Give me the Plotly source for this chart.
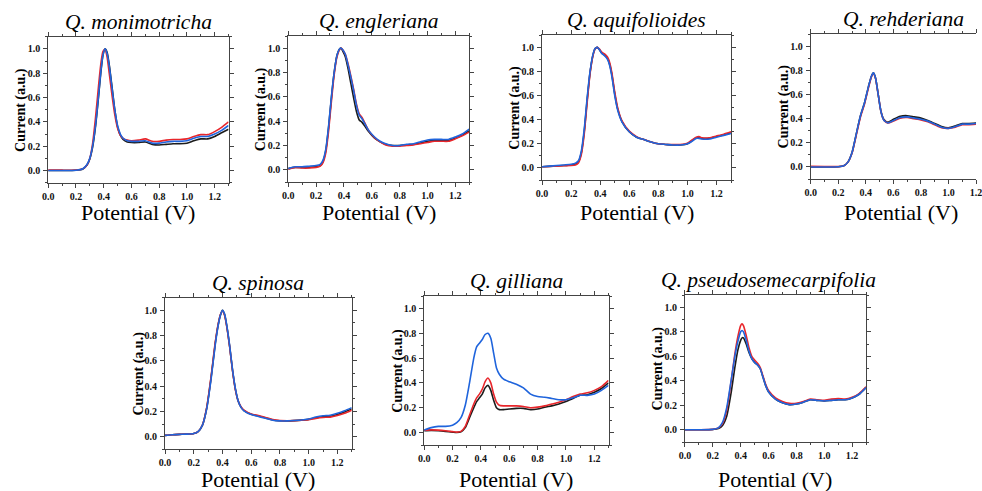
import plotly.graph_objects as go

W, H = 982, 491

# ---------------- data ----------------
TITLES = ["Q. monimotricha", "Q. engleriana", "Q. aquifolioides", "Q. rehderiana",
          "Q. spinosa", "Q. gilliana", "Q. pseudosemecarpifolia"]
X_TICKS = [0.0, 0.2, 0.4, 0.6, 0.8, 1.0, 1.2]
Y_TICKS = [0.0, 0.2, 0.4, 0.6, 0.8, 1.0]

MON_X = [0, 0.1, 0.2, 0.25, 0.28, 0.3, 0.32, 0.34, 0.36, 0.38, 0.395, 0.41, 0.425, 0.44, 0.46, 0.48, 0.5, 0.52, 0.54, 0.57,
         0.6, 0.65, 0.7, 0.75, 0.8, 0.85, 0.9, 0.95, 1.0, 1.05, 1.1, 1.15, 1.2, 1.25, 1.3]
MON_BLACK = [0, 0, 0.002, 0.013, 0.045, 0.095, 0.19, 0.35, 0.57, 0.81, 0.95, 1.0, 0.97, 0.87, 0.69, 0.5, 0.36, 0.29, 0.255, 0.235,
             0.23, 0.23, 0.235, 0.215, 0.21, 0.215, 0.22, 0.22, 0.225, 0.245, 0.26, 0.26, 0.28, 0.31, 0.34]
MON_RED = [0.005, 0.003, 0.004, 0.015, 0.045, 0.1, 0.22, 0.42, 0.66, 0.88, 0.98, 0.995, 0.93, 0.8, 0.62, 0.46, 0.35, 0.29, 0.265, 0.25,
           0.245, 0.25, 0.26, 0.24, 0.24, 0.25, 0.255, 0.255, 0.26, 0.28, 0.295, 0.295, 0.32, 0.355, 0.40]
MON_BLUE = [0, 0, 0.002, 0.015, 0.05, 0.1, 0.2, 0.36, 0.58, 0.82, 0.95, 1.0, 0.96, 0.86, 0.68, 0.5, 0.37, 0.3, 0.265, 0.245,
            0.24, 0.24, 0.245, 0.225, 0.225, 0.235, 0.24, 0.24, 0.245, 0.265, 0.28, 0.28, 0.3, 0.33, 0.37]

ENG_X = [0, 0.05, 0.1, 0.15, 0.2, 0.23, 0.25, 0.27, 0.29, 0.31, 0.33, 0.35, 0.37, 0.38, 0.39, 0.41, 0.43, 0.45, 0.47, 0.49,
         0.51, 0.53, 0.55, 0.58, 0.62, 0.66, 0.7, 0.75, 0.8, 0.85, 0.9, 0.95, 1.0, 1.05, 1.1, 1.15, 1.2, 1.25, 1.3]
ENG_BLACK = [0.01, 0.02, 0.02, 0.02, 0.025, 0.035, 0.07, 0.16, 0.35, 0.59, 0.8, 0.94, 0.995, 1.0, 0.98, 0.93, 0.83, 0.71, 0.59, 0.48,
             0.41, 0.39, 0.36, 0.31, 0.26, 0.23, 0.21, 0.2, 0.2, 0.205, 0.21, 0.22, 0.235, 0.24, 0.24, 0.24, 0.26, 0.285, 0.32]
ENG_RED = [0.005, 0.02, 0.015, 0.015, 0.02, 0.03, 0.06, 0.14, 0.32, 0.56, 0.78, 0.93, 0.99, 1.0, 0.99, 0.95, 0.87, 0.77, 0.66, 0.54,
           0.46, 0.43, 0.385, 0.32, 0.265, 0.23, 0.205, 0.195, 0.195, 0.2, 0.205, 0.215, 0.225, 0.235, 0.235, 0.235, 0.255, 0.28, 0.31]
ENG_BLUE = [0.01, 0.025, 0.025, 0.03, 0.035, 0.045, 0.08, 0.17, 0.36, 0.6, 0.8, 0.94, 0.995, 1.0, 0.99, 0.95, 0.86, 0.76, 0.65, 0.53,
            0.45, 0.42, 0.38, 0.32, 0.27, 0.235, 0.215, 0.2, 0.2, 0.21, 0.215, 0.23, 0.245, 0.25, 0.25, 0.25, 0.27, 0.295, 0.335]

AQU_X = [0, 0.05, 0.1, 0.15, 0.2, 0.23, 0.25, 0.27, 0.29, 0.31, 0.33, 0.35, 0.365, 0.38, 0.395, 0.41, 0.43, 0.45, 0.465, 0.48,
         0.5, 0.52, 0.55, 0.6, 0.65, 0.7, 0.75, 0.8, 0.85, 0.9, 0.95, 1.0, 1.03, 1.06, 1.08, 1.1, 1.15, 1.2, 1.25, 1.3]
AQU_BLACK = [0.01, 0.013, 0.017, 0.02, 0.025, 0.032, 0.05, 0.125, 0.3, 0.56, 0.79, 0.935, 0.99, 1.0, 0.98, 0.955, 0.935, 0.91, 0.86, 0.775,
             0.615, 0.49, 0.385, 0.3, 0.255, 0.235, 0.215, 0.2, 0.195, 0.19, 0.19, 0.2, 0.225, 0.25, 0.25, 0.245, 0.245, 0.26, 0.275, 0.29]
AQU_RED = [0.01, 0.012, 0.015, 0.018, 0.02, 0.025, 0.04, 0.11, 0.28, 0.54, 0.78, 0.93, 0.985, 1.0, 0.985, 0.96, 0.945, 0.92, 0.875, 0.79,
           0.63, 0.5, 0.39, 0.305, 0.26, 0.235, 0.215, 0.2, 0.195, 0.195, 0.195, 0.205, 0.23, 0.255, 0.26, 0.25, 0.25, 0.265, 0.28, 0.3]
AQU_BLUE = [0.01, 0.015, 0.02, 0.025, 0.03, 0.04, 0.06, 0.14, 0.32, 0.58, 0.8, 0.94, 0.99, 1.0, 0.98, 0.95, 0.93, 0.9, 0.85, 0.76,
            0.6, 0.48, 0.38, 0.3, 0.255, 0.235, 0.215, 0.2, 0.195, 0.19, 0.19, 0.2, 0.22, 0.245, 0.245, 0.24, 0.24, 0.255, 0.27, 0.285]

REH_X = [0, 0.1, 0.2, 0.24, 0.27, 0.3, 0.33, 0.36, 0.39, 0.42, 0.44, 0.455, 0.47, 0.49, 0.51, 0.53, 0.56, 0.6, 0.65, 0.7,
         0.75, 0.8, 0.85, 0.9, 0.95, 1.0, 1.05, 1.1, 1.15, 1.2, 1.25, 1.3]
REH_BLACK = [0.0, 0.0, 0.002, 0.01, 0.04, 0.12, 0.27, 0.42, 0.53, 0.67, 0.75, 0.78, 0.74, 0.6, 0.46, 0.395, 0.37, 0.395, 0.42, 0.425,
             0.415, 0.405, 0.385, 0.36, 0.335, 0.325, 0.34, 0.36, 0.36, 0.365, 0.38, 0.395]
REH_RED = [0.005, 0.003, 0.003, 0.01, 0.04, 0.115, 0.26, 0.41, 0.52, 0.66, 0.745, 0.775, 0.735, 0.6, 0.46, 0.39, 0.365, 0.38, 0.405, 0.41,
           0.4, 0.39, 0.375, 0.35, 0.325, 0.32, 0.33, 0.35, 0.35, 0.355, 0.37, 0.385]
REH_BLUE = [0.0, 0.0, 0.002, 0.01, 0.04, 0.12, 0.27, 0.42, 0.53, 0.67, 0.75, 0.78, 0.74, 0.6, 0.46, 0.39, 0.365, 0.385, 0.41, 0.415,
            0.405, 0.395, 0.38, 0.355, 0.33, 0.32, 0.335, 0.355, 0.355, 0.36, 0.375, 0.39]

SPI_X = [0, 0.05, 0.1, 0.15, 0.2, 0.23, 0.26, 0.29, 0.32, 0.35, 0.37, 0.385, 0.4, 0.415, 0.43, 0.45, 0.47, 0.49, 0.51, 0.53,
         0.55, 0.6, 0.65, 0.7, 0.75, 0.8, 0.85, 0.9, 0.95, 1.0, 1.05, 1.1, 1.15, 1.2, 1.25, 1.3]
SPI_BLACK = [0.01, 0.015, 0.018, 0.02, 0.025, 0.04, 0.09, 0.225, 0.46, 0.74, 0.885, 0.96, 1.0, 0.965, 0.875, 0.715, 0.525, 0.375, 0.28, 0.232,
             0.207, 0.177, 0.164, 0.148, 0.132, 0.126, 0.125, 0.127, 0.131, 0.137, 0.15, 0.158, 0.162, 0.176, 0.195, 0.22]
SPI_RED = [0.01, 0.015, 0.018, 0.02, 0.025, 0.04, 0.09, 0.23, 0.47, 0.75, 0.89, 0.965, 0.995, 0.96, 0.87, 0.71, 0.52, 0.37, 0.28, 0.235,
           0.21, 0.18, 0.168, 0.152, 0.135, 0.127, 0.126, 0.127, 0.13, 0.135, 0.145, 0.152, 0.155, 0.168, 0.185, 0.21]
SPI_BLUE = [0.01, 0.015, 0.018, 0.02, 0.025, 0.04, 0.09, 0.22, 0.45, 0.73, 0.88, 0.96, 1.0, 0.97, 0.88, 0.72, 0.53, 0.38, 0.28, 0.23,
            0.205, 0.175, 0.16, 0.145, 0.13, 0.125, 0.125, 0.128, 0.132, 0.14, 0.155, 0.165, 0.17, 0.185, 0.205, 0.23]

GIL_X = [0, 0.05, 0.1, 0.15, 0.2, 0.23, 0.26, 0.29, 0.32, 0.35, 0.37, 0.39, 0.41, 0.43, 0.45, 0.47, 0.49, 0.51, 0.53, 0.56,
         0.6, 0.65, 0.7, 0.75, 0.8, 0.85, 0.9, 0.95, 1.0, 1.05, 1.1, 1.15, 1.2, 1.25, 1.3]
GIL_BLACK = [0.015, 0.018, 0.015, 0.01, 0.004, 0.001, 0.006, 0.04, 0.12, 0.2, 0.25, 0.28, 0.31, 0.36, 0.38, 0.34, 0.26, 0.2, 0.185, 0.185,
             0.19, 0.195, 0.195, 0.185, 0.19, 0.205, 0.215, 0.23, 0.25, 0.275, 0.3, 0.305, 0.325, 0.355, 0.4]
GIL_RED = [0.02, 0.022, 0.02, 0.015, 0.008, 0.004, 0.01, 0.05, 0.14, 0.23, 0.28, 0.31, 0.35, 0.41, 0.44, 0.4, 0.31, 0.245, 0.22, 0.215,
           0.215, 0.215, 0.21, 0.2, 0.205, 0.215, 0.23, 0.245, 0.265, 0.29, 0.31, 0.32, 0.34, 0.37, 0.42]
GIL_BLUE = [0.02, 0.04, 0.05, 0.05, 0.06, 0.08, 0.12, 0.22, 0.4, 0.6, 0.69, 0.72, 0.75, 0.79, 0.8, 0.76, 0.64, 0.52, 0.47, 0.43,
            0.41, 0.39, 0.36, 0.31, 0.29, 0.285, 0.275, 0.265, 0.265, 0.28, 0.3, 0.3, 0.31, 0.34, 0.38]

PSE_X = [0, 0.1, 0.2, 0.24, 0.27, 0.3, 0.33, 0.36, 0.38, 0.4, 0.41, 0.42, 0.44, 0.46, 0.48, 0.5, 0.52, 0.54, 0.56, 0.58,
         0.6, 0.65, 0.7, 0.75, 0.8, 0.85, 0.9, 0.95, 1.0, 1.05, 1.1, 1.15, 1.2, 1.25, 1.3]
PSE_BLACK = [0.0, 0.0, 0.002, 0.01, 0.035, 0.11, 0.29, 0.52, 0.65, 0.73, 0.75, 0.75, 0.7, 0.63, 0.58, 0.55, 0.53, 0.5, 0.43, 0.36,
             0.31, 0.25, 0.22, 0.205, 0.21, 0.225, 0.245, 0.24, 0.235, 0.24, 0.245, 0.245, 0.26, 0.29, 0.345]
PSE_RED = [0.0, 0.0, 0.003, 0.015, 0.05, 0.16, 0.38, 0.63, 0.76, 0.85, 0.865, 0.85, 0.77, 0.67, 0.6, 0.57, 0.545, 0.51, 0.44, 0.37,
           0.32, 0.26, 0.23, 0.215, 0.215, 0.23, 0.25, 0.245, 0.24, 0.25, 0.255, 0.25, 0.265, 0.295, 0.35]
PSE_BLUE = [0.0, 0.0, 0.003, 0.015, 0.06, 0.18, 0.39, 0.61, 0.72, 0.8, 0.81, 0.8, 0.73, 0.64, 0.58, 0.55, 0.53, 0.5, 0.43, 0.36,
            0.31, 0.25, 0.22, 0.205, 0.21, 0.225, 0.245, 0.24, 0.235, 0.24, 0.245, 0.245, 0.26, 0.29, 0.345]

PANEL_DATA = [
    (MON_X, MON_BLACK, MON_RED, MON_BLUE),
    (ENG_X, ENG_BLACK, ENG_RED, ENG_BLUE),
    (AQU_X, AQU_BLACK, AQU_RED, AQU_BLUE),
    (REH_X, REH_BLACK, REH_RED, REH_BLUE),
    (SPI_X, SPI_BLACK, SPI_RED, SPI_BLUE),
    (GIL_X, GIL_BLACK, GIL_RED, GIL_BLUE),
    (PSE_X, PSE_BLACK, PSE_RED, PSE_BLUE),
]

# ---------------- layout geometry (pixels) ----------------
# (left, right, top, bottom, title_center_x, x_range_max)
PANELS = [
    (42.7, 225.3, 36.7, 182.7, 134.0, 1.3),
    (285.7, 469.0, 36.0, 182.0, 377.3, 1.3),
    (542.7, 734.0, 35.3, 180.0, 638.3, 1.3),
    (814.7, 982.0, 34.3, 179.0, 909.0, 1.2),
    (161.0, 350.0, 297.7, 449.3, 255.5, 1.3),
    (423.3, 610.0, 296.0, 445.0, 516.6, 1.3),
    (687.3, 870.7, 295.0, 442.0, 772.0, 1.3),
]
XTITLE_BASE = [217, 217, 217, 217, 488, 488, 488]
XTITLE_PAD = [10, 10, 10, 10, 6, 6, 6]

COLORS = ["#1c1c1c", "#e8262b", "#1f64dc"]
SERIF = "Liberation Serif"
AXC = "#444444"

fig = go.Figure()
annotations = []
layout_axes = {}

for i, ((L, R, T, B, tcx, xmax), (xs, yk, yr, yb)) in enumerate(zip(PANELS, PANEL_DATA)):
    n = "" if i == 0 else str(i + 1)
    for ys, col in zip((yk, yr, yb), COLORS):
        fig.add_trace(go.Scatter(x=xs, y=ys, mode="lines",
                                 line=dict(color=col, width=1.6, shape="spline", smoothing=0.6),
                                 xaxis="x" + n, yaxis="y" + n, showlegend=False, hoverinfo="skip"))
    common = dict(showline=True, linecolor=AXC, linewidth=1, ticks="outside", ticklen=4,
                  tickwidth=1, tickcolor=AXC, showgrid=False, zeroline=False,
                  tickformat=".1f", tickfont=dict(family=SERIF, size=10, color="#111", weight="bold"),
                  minor=dict(ticks="outside", ticklen=2, tickcolor=AXC, dtick=0.1, showgrid=False),
                  ticklabeloverflow="allow", fixedrange=True)
    layout_axes["xaxis" + n] = dict(common, domain=[L / W, R / W], range=[0, xmax],
                                    tickvals=X_TICKS, anchor="y" + n, mirror="allticks", ticklabelstandoff=0)
    layout_axes["yaxis" + n] = dict(common, domain=[1 - B / H, 1 - T / H], range=[-0.1, 1.1],
                                    tickvals=Y_TICKS, anchor="x" + n,
                                    mirror=(False if i == 3 else "allticks"), ticklabelstandoff=1)
    # panel title
    annotations.append(dict(text=TITLES[i], x=tcx / W, y=1 - T / H, xref="paper", yref="paper",
                            xanchor="center", yanchor="bottom", yshift=1, showarrow=False,
                            font=dict(family=SERIF, size=21.5, color="#000", style="italic")))
    # x axis title
    annotations.append(dict(text="Potential (V)", x=(L + (R if i != 3 else L + 182)) / 2 / W,
                            y=1 - (XTITLE_BASE[i] + XTITLE_PAD[i]) / H, xref="paper", yref="paper",
                            xanchor="center", yanchor="bottom", showarrow=False,
                            font=dict(family=SERIF, size=22, color="#000")))
    # y axis title
    annotations.append(dict(text="Current (a.u.)", x=L / W, xshift=-27, y=1 - (T + B) / 2 / H,
                            xref="paper", yref="paper", xanchor="center", yanchor="middle",
                            textangle=-90, showarrow=False,
                            font=dict(family=SERIF, size=14, color="#000", weight="bold")))

fig.update_layout(width=W, height=H, margin=dict(l=0, r=0, t=0, b=0),
                  paper_bgcolor="white", plot_bgcolor="white",
                  annotations=annotations, **layout_axes)

fig.write_html("out.html", config={"displayModeBar": False},
               post_script="document.body.style.margin='0px';document.body.style.overflow='hidden';")
